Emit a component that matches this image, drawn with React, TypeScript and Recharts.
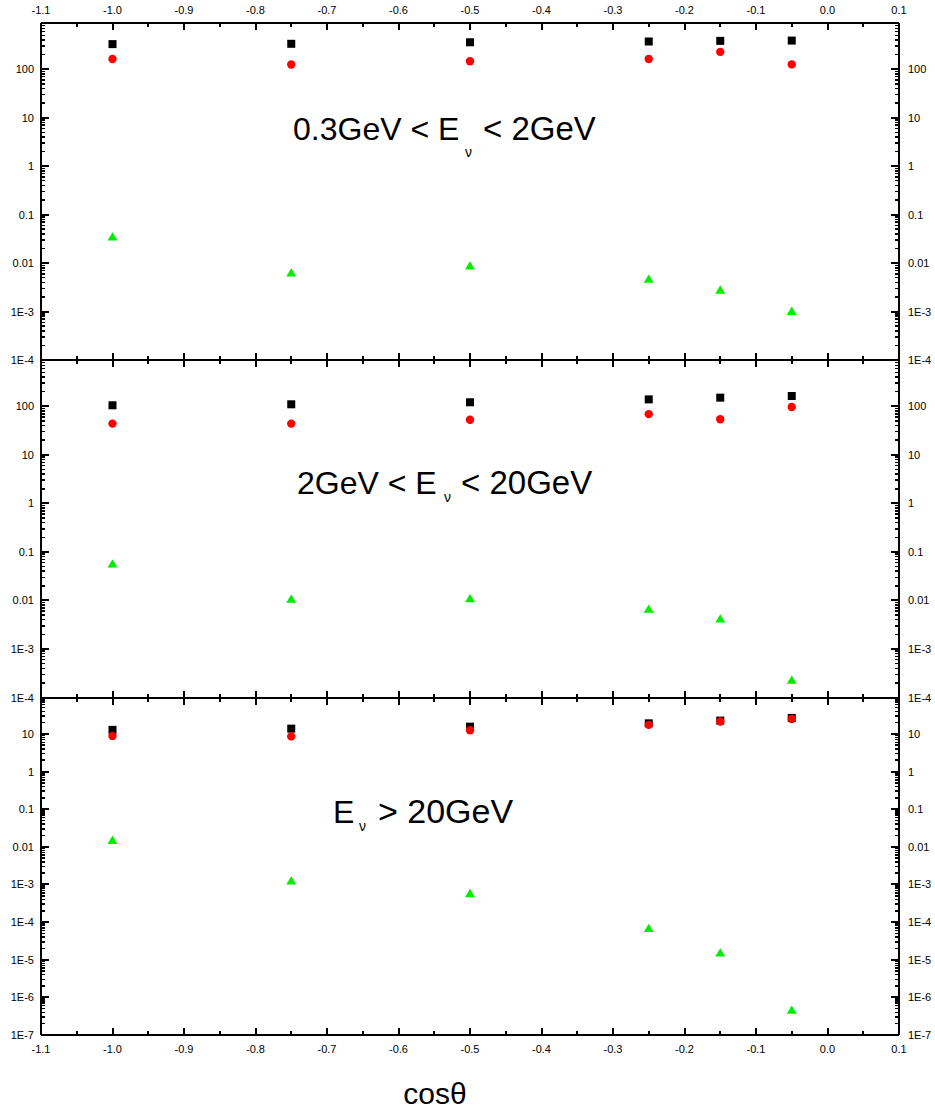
import React from 'react';
import { ScatterChart, Scatter, XAxis, YAxis } from 'recharts';

const cosTheta = [-1.0, -0.75, -0.5, -0.25, -0.15, -0.05];

const xTicks = [-1.1, -1.05, -1.0, -0.95, -0.9, -0.85, -0.8, -0.75, -0.7, -0.65, -0.6, -0.55, -0.5, -0.45, -0.4, -0.35, -0.3, -0.25, -0.2, -0.15, -0.1, -0.05, 0.0, 0.05, 0.1];
const xMajorTicks = [-1.1, -1.0, -0.9, -0.8, -0.7, -0.6, -0.5, -0.4, -0.3, -0.2, -0.1, 0.0, 0.1];
const xMajorLabels = ['-1.1', '-1.0', '-0.9', '-0.8', '-0.7', '-0.6', '-0.5', '-0.4', '-0.3', '-0.2', '-0.1', '0.0', '0.1'];
const xDomain: [number, number] = [-1.1, 0.1];

// panel 1: 0.3GeV < Ev < 2GeV
const p1Black = [330, 335, 360, 374, 385, 390];
const p1Red = [163, 125, 146, 163, 228, 126];
const p1Green = [0.035, 0.0063, 0.0088, 0.0047, 0.0028, 0.00102];
// panel 2: 2GeV < Ev < 20GeV
const p2Black = [105, 110, 121, 139, 151, 163];
const p2Red = [44, 44, 53, 69, 54, 97];
const p2Green = [0.057, 0.0107, 0.011, 0.0067, 0.0042, 0.00023];
// panel 3: Ev > 20GeV
const p3Black = [12.8, 13.8, 15.6, 19.1, 22.6, 26.6];
const p3Red = [8.85, 8.6, 12.5, 17.4, 21.3, 25];
const p3Green = [0.0151, 0.00125, 0.00058, 6.9e-5, 1.54e-5, 4.6e-7];

const yMajors12 = [1e-4, 1e-3, 0.01, 0.1, 1, 10, 100];
const yLabels12 = ['1E-4', '1E-3', '0.01', '0.1', '1', '10', '100'];
const yDomain12: [number, number] = [1e-4, 900];

const yMajors3 = [1e-7, 1e-6, 1e-5, 1e-4, 1e-3, 0.01, 0.1, 1, 10];
const yLabels3 = ['1E-7', '1E-6', '1E-5', '1E-4', '1E-3', '0.01', '0.1', '1', '10'];
const yDomain3: [number, number] = [1e-7, 90];

const FONT = '"Liberation Sans", Arial, sans-serif';

function withMinorTicks(majors: number[], max: number) {
  const out: number[] = [...majors];
  majors.forEach((d) => {
    for (let k = 2; k <= 9; k++) {
      const v = d * k;
      if (v <= max * 1.0001) out.push(v);
    }
  });
  return out.sort((a, b) => a - b);
}

function findIndex(arr: number[], v: number) {
  return arr.findIndex((a) => Math.abs(a - v) <= Math.abs(a) * 1e-6 + 1e-12);
}

const toPts = (ys: number[]) => cosTheta.map((x, i) => ({ x, y: ys[i] }));

const Square = (p: any) => <rect x={p.cx - 4} y={p.cy - 4} width={8} height={8} fill="#000" />;
const Dot = (p: any) => <circle cx={p.cx} cy={p.cy} r={4.2} fill="#ff0000" />;
const Tri = (p: any) => (
  <polygon points={`${p.cx},${p.cy - 4.5} ${p.cx + 5},${p.cy + 3.8} ${p.cx - 5},${p.cy + 3.8}`} fill="#00ee00" />
);
const Nothing = () => <g />;

const AXIS_LINE = { stroke: '#000', strokeWidth: 2, shapeRendering: 'crispEdges' };

const makeXTick = (side: 'top' | 'bottom', showLabel: boolean) => (p: any) => {
  const v = p.payload.value;
  const mi = findIndex(xMajorTicks, v);
  const major = mi >= 0;
  const len = major ? 7 : 4;
  const dir = side === 'top' ? 1 : -1;
  return (
    <g>
      <line x1={p.x} x2={p.x} y1={p.y} y2={p.y + dir * len} stroke="#000" strokeWidth={2} shapeRendering="crispEdges" />
      {showLabel && major ? (
        <text x={p.x} y={side === 'top' ? p.y - 9.5 : p.y + 17.5} textAnchor="middle" fontSize={11} fontFamily={FONT} fill="#000">
          {xMajorLabels[mi]}
        </text>
      ) : null}
    </g>
  );
};

const makeYTick = (side: 'left' | 'right', majors: number[], labels: string[]) => (p: any) => {
  const v = p.payload.value;
  const mi = findIndex(majors, v);
  const major = mi >= 0;
  const len = major ? 8 : 4;
  const dir = side === 'left' ? 1 : -1;
  return (
    <g>
      <line x1={p.x} x2={p.x + dir * len} y1={p.y} y2={p.y} stroke="#000" strokeWidth={major ? 2 : 1.5} shapeRendering="crispEdges" />
      {major ? (
        <text
          x={side === 'left' ? p.x - 7 : p.x + 9}
          y={p.y + 4}
          textAnchor={side === 'left' ? 'end' : 'start'}
          fontSize={11}
          fontFamily={FONT}
          fill="#000"
        >
          {labels[mi]}
        </text>
      ) : null}
    </g>
  );
};

function makePanel(cfg: {
  top: number;
  topH: number;
  bottomH: number;
  plotH: number;
  showTopLabels: boolean;
  showBottomLabels: boolean;
  domain: [number, number];
  majors: number[];
  labels: string[];
  black: number[];
  red: number[];
  green: number[];
}) {
  return {
    top: cfg.top,
    topH: cfg.topH,
    bottomH: cfg.bottomH,
    height: cfg.topH + cfg.plotH + cfg.bottomH,
    domain: cfg.domain,
    yTicks: withMinorTicks(cfg.majors, cfg.domain[1]),
    xTickTop: makeXTick('top', cfg.showTopLabels),
    xTickBottom: makeXTick('bottom', cfg.showBottomLabels),
    yTickLeft: makeYTick('left', cfg.majors, cfg.labels),
    yTickRight: makeYTick('right', cfg.majors, cfg.labels),
    blackPts: toPts(cfg.black),
    redPts: toPts(cfg.red),
    greenPts: toPts(cfg.green),
  };
}

const PANELS = [
  makePanel({ top: 0, topH: 23, bottomH: 5, plotH: 337, showTopLabels: true, showBottomLabels: false, domain: yDomain12, majors: yMajors12, labels: yLabels12, black: p1Black, red: p1Red, green: p1Green }),
  makePanel({ top: 355, topH: 5, bottomH: 5, plotH: 337.5, showTopLabels: false, showBottomLabels: false, domain: yDomain12, majors: yMajors12, labels: yLabels12, black: p2Black, red: p2Red, green: p2Green }),
  makePanel({ top: 692.5, topH: 5, bottomH: 30, plotH: 337, showTopLabels: false, showBottomLabels: true, domain: yDomain3, majors: yMajors3, labels: yLabels3, black: p3Black, red: p3Red, green: p3Green }),
];

const MARGIN = { top: 0, right: 0, bottom: 0, left: 0 };

function Panel({ cfg }: { cfg: ReturnType<typeof makePanel> }) {
  return (
    <div style={{ position: 'absolute', left: 0, top: cfg.top }}>
      <ScatterChart width={935} height={cfg.height} margin={MARGIN}>
        <XAxis xAxisId="b" orientation="bottom" type="number" dataKey="x" domain={xDomain} ticks={xTicks} interval={0}
          height={cfg.bottomH} tickSize={0} tickMargin={0} tickLine={false} axisLine={AXIS_LINE} stroke="#000" tick={cfg.xTickBottom} />
        <XAxis xAxisId="t" orientation="top" type="number" dataKey="x" domain={xDomain} ticks={xTicks} interval={0}
          height={cfg.topH} tickSize={0} tickMargin={0} tickLine={false} axisLine={AXIS_LINE} stroke="#000" tick={cfg.xTickTop} />
        <YAxis yAxisId="l" orientation="left" type="number" dataKey="y" scale="log" domain={cfg.domain} allowDataOverflow ticks={cfg.yTicks} interval={0}
          width={41} tickSize={0} tickMargin={0} tickLine={false} axisLine={AXIS_LINE} stroke="#000" tick={cfg.yTickLeft} />
        <YAxis yAxisId="r" orientation="right" type="number" dataKey="y" scale="log" domain={cfg.domain} allowDataOverflow ticks={cfg.yTicks} interval={0}
          width={36} tickSize={0} tickMargin={0} tickLine={false} axisLine={AXIS_LINE} stroke="#000" tick={cfg.yTickRight} />
        <Scatter xAxisId="t" yAxisId="r" data={cfg.greenPts} shape={Nothing} isAnimationActive={false} />
        <Scatter xAxisId="b" yAxisId="l" data={cfg.blackPts} shape={Square} isAnimationActive={false} />
        <Scatter xAxisId="b" yAxisId="l" data={cfg.redPts} shape={Dot} isAnimationActive={false} />
        <Scatter xAxisId="b" yAxisId="l" data={cfg.greenPts} shape={Tri} isAnimationActive={false} />
      </ScatterChart>
    </div>
  );
}

export default function App() {
  const big = { fontFamily: FONT, fill: '#000' };
  return (
    <div style={{ position: 'absolute', left: 0, top: 0, width: 935, height: 1115 }}>
      <Panel cfg={PANELS[0]} />
      <Panel cfg={PANELS[1]} />
      <Panel cfg={PANELS[2]} />
      <svg width={935} height={1115} style={{ position: 'absolute', left: 0, top: 0, pointerEvents: 'none' }}>
        <text x={293} y={140} fontSize={32} {...big}>0.3GeV &lt; E</text>
        <text x={465} y={157} fontSize={14} {...big}>ν</text>
        <text x={483} y={140} fontSize={33} {...big}>&lt; 2GeV</text>

        <text x={297} y={494} fontSize={32} {...big}>2GeV &lt; E</text>
        <text x={444} y={502} fontSize={14} {...big}>ν</text>
        <text x={461} y={494} fontSize={33} {...big}>&lt; 20GeV</text>

        <text x={333} y={823} fontSize={32} {...big}>E</text>
        <text x={359} y={831} fontSize={14} {...big}>ν</text>
        <text x={378} y={823} fontSize={34} {...big}>&gt; 20GeV</text>

        <text x={435} y={1104} fontSize={30} textAnchor="middle" {...big}>cosθ</text>
      </svg>
    </div>
  );
}
